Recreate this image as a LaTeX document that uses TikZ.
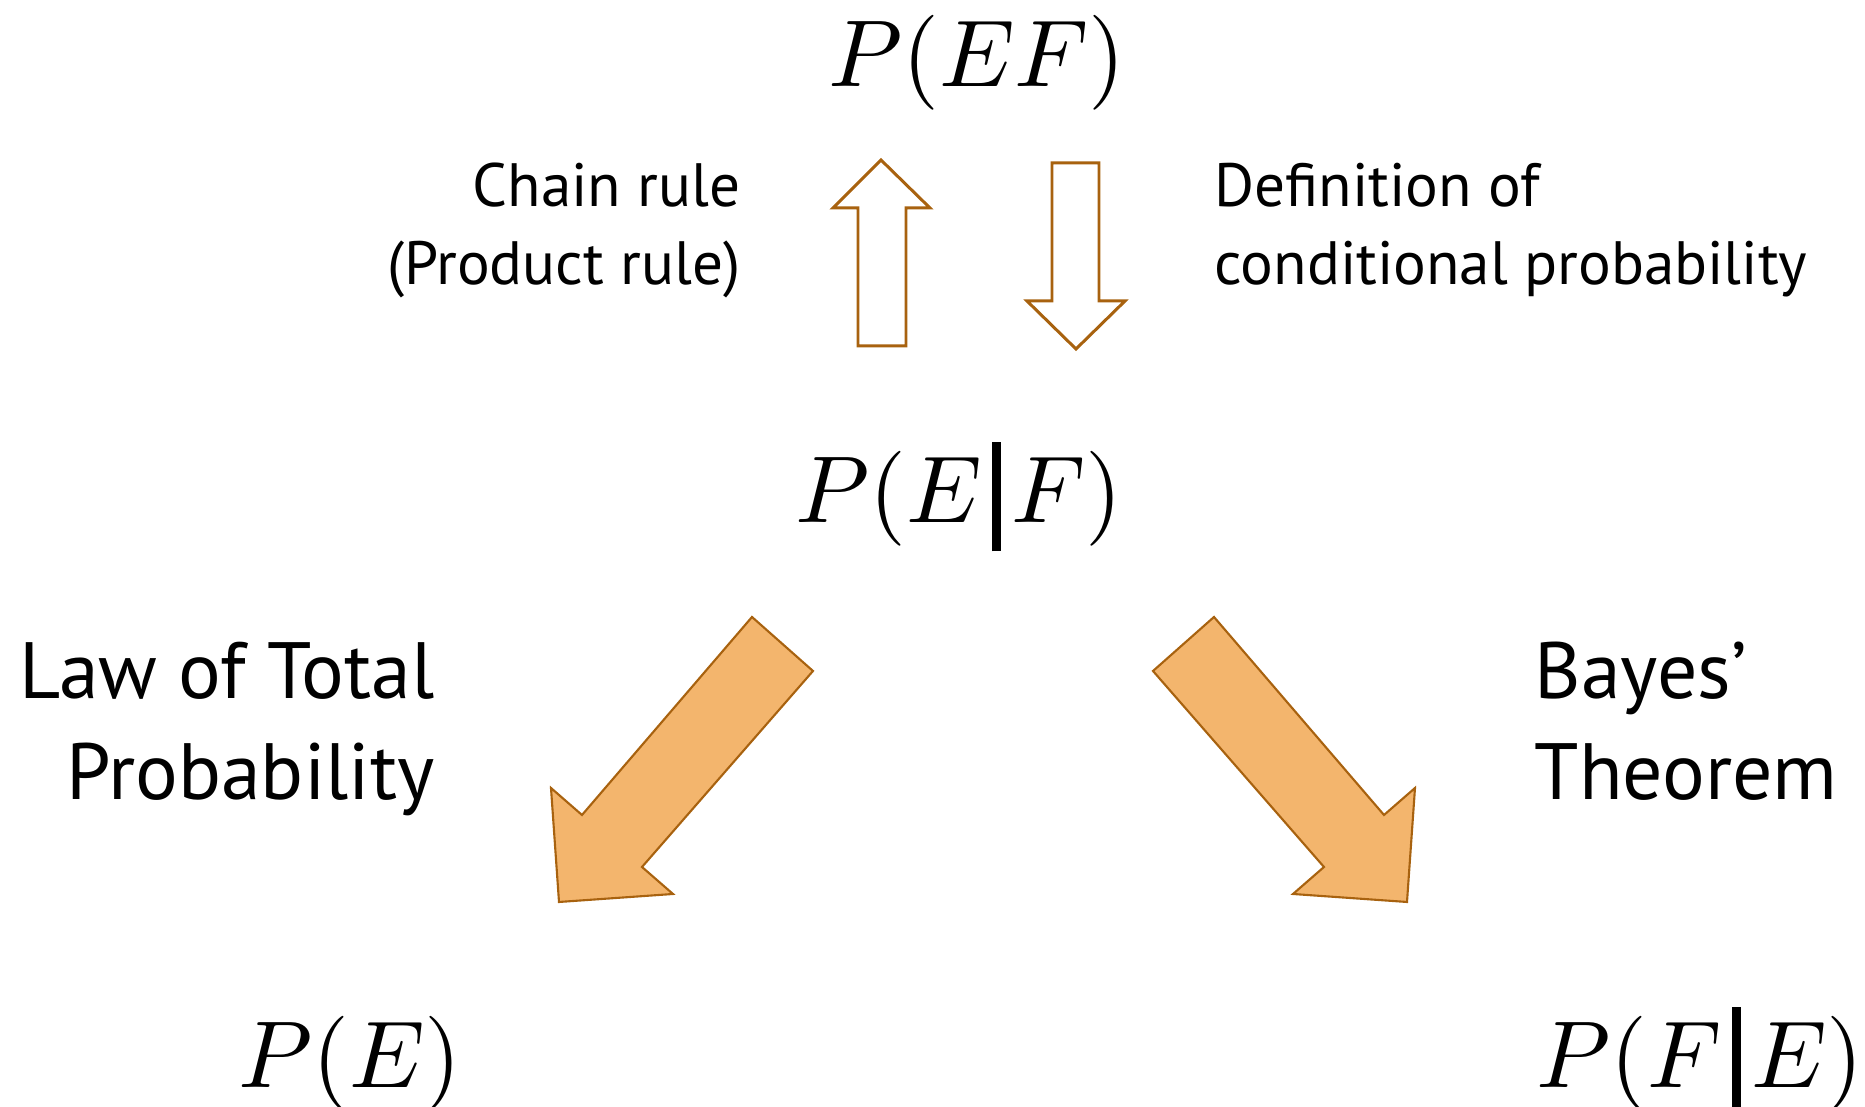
\documentclass[tikz,border=0pt]{standalone}
\usepackage{amsmath}
\usepackage{graphicx}
\usepackage{fontspec}
\setsansfont{PT Sans}
\usepackage{tikz}
\usepackage{xcolor}
\usetikzlibrary{positioning, calc}

\definecolor{arrowline}{HTML}{A8620F}
\definecolor{arrowfill}{HTML}{F3B56D}
\newcommand{\givenbar}{\mkern2mu\mathord{\rule[-0.3em]{0.09em}{1.15em}}\mkern2mu}
\newcommand{\bigprob}[1]{\scalebox{2.7}{$#1$}}

\begin{document}
\begin{tikzpicture}[x=0.01cm, y=-0.01cm,
            prob/.style={inner sep=0, anchor=base},
            smallnote/.style={inner sep=0, font=\sffamily\fontsize{17.4}{22.3}\selectfont},
            bignote/.style={inner sep=0, font=\sffamily\fontsize{22.7}{29}\selectfont},
            hollowarrow/.style={draw=arrowline, line width=0.85pt, fill=white, line join=miter},
            fullarrow/.style={draw=arrowline, line width=0.6pt, fill=arrowfill, line join=miter}
        ]
\useasboundingbox (0,0) rectangle (1865,1107);

% Probabilities
            \node[prob] (pef) at (977,87) {\bigprob{P(EF)}};
            \node[prob] (pegf) at (959,523) {\bigprob{P(E\givenbar F)}};
            \node[prob] (pe) at (350,1088) {\bigprob{P(E)}};
            \node[prob] (pfge) at (1700,1088) {\bigprob{P(F\givenbar E)}};

% Rule names (base = last line)
            \node[smallnote, anchor=base east, align=right] (chain) at (741,285) {Chain rule\\(Product rule)};
            \node[smallnote, anchor=base west, align=left] (defn) at (1214,285) {Definition of\\conditional probability};
            \node[bignote, anchor=base east, align=right] (ltp) at (435,800) {Law of Total\\Probability};
            \node[bignote, anchor=base west, align=left] (bayes) at (1534,800) {Bayes'\\Theorem};

% Arrows between P(EF) and P(E|F)
            \draw[hollowarrow] (858,346) -- (858,208) -- (833,208) -- (881,160) -- (930,208) -- (906,208) -- (906,346) -- cycle;
            \draw[hollowarrow] (1052,163) -- (1052,301) -- (1027,301) -- (1076,349) -- (1125,301) -- (1099,301) -- (1099,163) -- cycle;

% Arrows down to P(E) and P(F|E)
            \draw[fullarrow] (752,617) -- (813,671) -- (642,867) -- (673,894) -- (559,902) -- (551,788) -- (582,815) -- cycle;
            \draw[fullarrow] (1214,617) -- (1153,671) -- (1324,867) -- (1293,894) -- (1407,902) -- (1415,788) -- (1384,815) -- cycle;

        \end{tikzpicture}
\end{document}
